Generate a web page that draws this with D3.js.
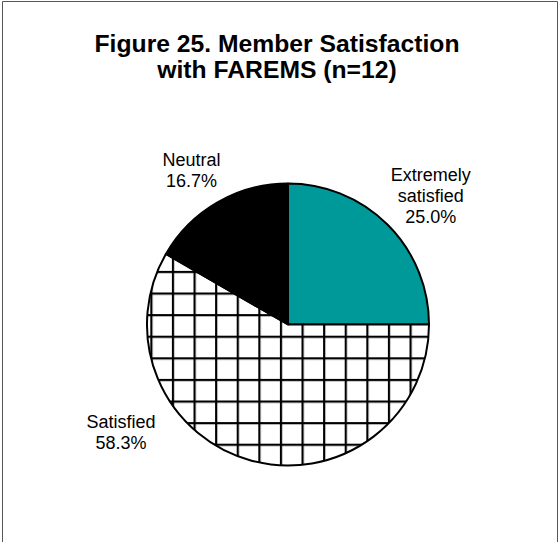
<!DOCTYPE html>
<html>
<head>
<meta charset="utf-8">
<script src="https://cdn.jsdelivr.net/npm/d3@7"></script>
<style>
  html, body { margin: 0; padding: 0; background: #fff; }
  svg { display: block; font-family: "Liberation Sans", Arial, sans-serif; }
</style>
</head>
<body>
<svg id="chart" width="559" height="542"></svg>
<script>
// Survey responses (n=12), in drawing order clockwise from 12 o'clock
const categories = ["Extremely satisfied", "Satisfied", "Neutral"];
const counts = [3, 7, 2];
const percentLabels = ["25.0%", "58.3%", "16.7%"];
const titleLines = ["Figure 25. Member Satisfaction", "with FAREMS (n=12)"];

// Label text lines per slice (category name wrapped as in the chart)
const labelLines = [["Extremely", "satisfied"], ["Satisfied"], ["Neutral"]];
// Label anchor placement: polar angle (deg from 12 o'clock) and distance from centre
const labelPolar = [[48, 192], [237, 199], [328, 182]];

const svg = d3.select("#chart");
const W = 559, H = 542;
const cx = 288, cy = 324.5, R = 141;

// outer frame (open at the bottom edge of the page)
svg.append("path")
  .attr("d", `M2.5,${H + 2} V1.5 H557.5 V${H + 2}`)
  .attr("fill", "none")
  .attr("stroke", "#555")
  .attr("stroke-width", 1);

// title
const title = svg.append("text")
  .attr("text-anchor", "middle")
  .attr("font-weight", "bold")
  .attr("font-size", 24.7)
  .attr("fill", "#000");
titleLines.forEach((t, i) => {
  title.append("tspan").attr("x", 277).attr("y", 52 + i * 26).text(t);
});

// cross-hatch pattern for the "Satisfied" slice
const step = 21.6;
const defs = svg.append("defs");
const pat = defs.append("pattern")
  .attr("id", "grid")
  .attr("patternUnits", "userSpaceOnUse")
  .attr("x", 164.7).attr("y", 335.2)
  .attr("width", step).attr("height", step);
pat.append("rect").attr("width", step).attr("height", step).attr("fill", "#fff");
pat.append("line").attr("x1", 1.1).attr("x2", 1.1).attr("y1", 0).attr("y2", step)
  .attr("stroke", "#000").attr("stroke-width", 2.2);
pat.append("line").attr("x1", 0).attr("x2", step).attr("y1", 1.1).attr("y2", 1.1)
  .attr("stroke", "#000").attr("stroke-width", 2.2);

const fills = ["#009999", "url(#grid)", "#000000"];

const pie = d3.pie().sort(null).value(d => d)(counts);
const arc = d3.arc().innerRadius(0).outerRadius(R);

const g = svg.append("g").attr("transform", `translate(${cx},${cy})`);
g.selectAll("path.slice")
  .data(pie)
  .join("path")
  .attr("class", "slice")
  .attr("d", arc)
  .attr("fill", (d, i) => fills[i])
  .attr("stroke", "#000")
  .attr("stroke-width", 2)
  .attr("stroke-linejoin", "round");

// data labels
const lineH = 21;
pie.forEach((d, i) => {
  const [deg, dist] = labelPolar[i];
  const a = deg * Math.PI / 180;
  const lx = cx + dist * Math.sin(a);
  const ly = cy - dist * Math.cos(a);
  const lines = labelLines[i].concat([percentLabels[i]]);
  const t = svg.append("text")
    .attr("text-anchor", "middle")
    .attr("font-size", 18)
    .attr("fill", "#000");
  const top = ly - (lines.length - 1) * lineH / 2 + 6;
  lines.forEach((s, k) => {
    t.append("tspan").attr("x", lx).attr("y", top + k * lineH).text(s);
  });
});
</script>
</body>
</html>
